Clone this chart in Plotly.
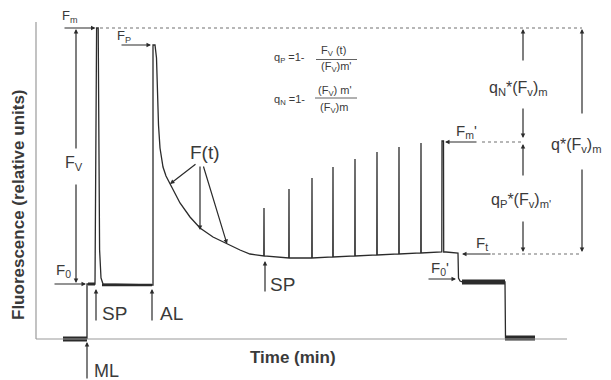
import plotly.graph_objects as go

# ---------------- data (time in arbitrary units, fluorescence in relative units) -------------
# fluorescence levels
F_BASE = 41      # signal with measuring light off
F0 = 96          # minimal fluorescence (ML on)
FM = 352         # maximal fluorescence (saturation pulse, dark)
FP = 335         # peak on actinic light
FM_P = 239       # Fm' (last pulse)
FT = 127         # steady state Ft
F0_P = 98        # F0' after AL off

# dark baseline before ML
base_t = [63, 87]
base_f = [F_BASE, F_BASE]

# first part: ML on, dark saturating pulse, dark plateau, AL on
start_t = [87, 87, 95, 96, 96.6, 98.2, 98.8, 99.6, 101, 103, 152, 153, 153]
start_f = [F_BASE, F0, F0, FM, FM, FM, 230, 130, 102, 96, 95, 95, FP]

# decay of F(t) under actinic light (Kautsky)
decay_t = [155, 156.5, 157.5, 158.5, 160, 163, 166, 170, 175, 180, 190, 200, 213, 227, 240, 250]
decay_f = [FP, 322, 290, 255, 232, 213, 204, 196, 186, 177, 163, 152, 143, 136, 130, 126]

# saturating pulses under actinic light
sp_t = [264, 289, 312, 333, 355, 377, 399, 421, 442]
sp_base = [124, 122, 122, 123, 124, 125, 126, 127, 128]
sp_peak = [172, 191, 202, 213, 221, 228, 233, 237, FM_P]

# AL off -> F0', then ML off
end_t = [458, 458.5, 460, 463, 505, 505.5, 535]
end_f = [FT, 102, 99, F0_P, F0_P, 42, 42]

# thick (noisy) segments
thick = [
    ([63, 87], [F_BASE, F_BASE], 5),
    ([88, 95], [F0, F0], 3),
    ([102, 152], [95, 95], 2.6),
    ([462, 505], [F0_P, F0_P], 5),
    ([505, 535], [42, 42], 5),
]

# ---------------- build the trace -------------
tt = list(start_t) + decay_t
ff = list(start_f) + decay_f
for i, (t, b, p) in enumerate(zip(sp_t, sp_base, sp_peak)):
    if i < len(sp_t) - 1:
        tt += [t - 0.2, t, t + 0.2]
        ff += [b, p, b]
    else:
        tt += [t - 0.2, t, t + 1.5, t + 1.7, t + 4]
        ff += [b, p, p, b, b]
tt += end_t
ff += end_f

TRACE = "#2b2b2b"
TXT = "#3a3a3a"
AX = "#9a9a9a"
DOT = "#707070"
FONT = "Liberation Sans, Arial, sans-serif"

fig = go.Figure()
fig.add_trace(go.Scatter(x=tt, y=ff, mode="lines", line=dict(color=TRACE, width=1.3),
                         hoverinfo="skip", showlegend=False))
for xs, ys, w in thick:
    fig.add_trace(go.Scatter(x=xs, y=ys, mode="lines", line=dict(color=TRACE, width=w),
                             hoverinfo="skip", showlegend=False))

shapes = []
annos = []


def line(x0, y0, x1, y1, dash=None, color=AX, width=1.2):
    shapes.append(dict(type="line", xref="x", yref="y", x0=x0, y0=y0, x1=x1, y1=y1,
                       line=dict(color=color, width=width, dash=dash) if dash else dict(color=color, width=width)))


def arrow(x0, y0, x1, y1):
    annos.append(dict(x=x1, y=y1, ax=x0, ay=y0, xref="x", yref="y", axref="x", ayref="y",
                      showarrow=True, arrowhead=2, arrowsize=0.75, arrowwidth=1.2,
                      arrowcolor=TRACE, text="", standoff=0, startstandoff=0))


def text(x, y, s, size=16, xanchor="center", bold=False, angle=0):
    annos.append(dict(x=x, y=y, xref="x", yref="y", text=("<b>%s</b>" % s) if bold else s,
                      showarrow=False, xanchor=xanchor, yanchor="middle", textangle=angle,
                      font=dict(family=FONT, size=size, color=TXT)))


# axes frame
line(36, 358, 36, F_BASE)
line(36, F_BASE, 567, F_BASE)

# Fm
text(70, 364, "F<sub>m</sub>", 13)
arrow(63, FM, 95.5, FM)
line(100, FM, 582, FM, dash="dot", color=DOT)
# Fv
arrow(76, 230, 76, FM - 1)
text(74, 217, "F<sub>V</sub>", 16)
arrow(76, 197, 76, F0 + 1)
# F0
text(63, 110, "F<sub>0</sub>", 15)
arrow(53, F0, 86, F0)
# SP / AL / ML
arrow(96, 58, 96, 91)
text(100, 67, "SP", 19, xanchor="left")
arrow(152, 58, 152, 91)
text(158, 67, "AL", 19, xanchor="left")
arrow(87, 0, 87, 38)
text(92, 9, "ML", 18, xanchor="left")
# Fp
text(124, 344, "F<sub>P</sub>", 13)
arrow(120, FP, 151, FP)
# F(t)
text(205, 228, "F(t)", 19)
arrow(197, 217, 170, 196)
arrow(200, 215, 200, 150)
arrow(203, 215, 227, 136)
# SP in light
arrow(265, 87, 265, 119)
text(268, 96, "SP", 19, xanchor="left")

# formulas
text(289, 322, "q<sub>P</sub> =1-", 11)
text(333, 329, "F<sub>V</sub> (t)", 11)
line(316, 320.5, 357, 320.5, color=TXT, width=0.8)
text(336, 313, "(F<sub>V</sub>)m'", 11)
text(289, 280, "q<sub>N</sub> =1-", 11)
text(335, 289, "(F<sub>V</sub>) m'", 11)
line(315, 282, 357, 282, color=TXT, width=0.8)
text(334, 272, "(F<sub>V</sub>)m", 11)

# right-hand annotations
arrow(523, 318, 523, FM - 1)
text(518, 292, "q<sub>N</sub>*(F<sub>v</sub>)<sub>m</sub>", 16)
arrow(523, 273, 523, FM_P + 3)
arrow(523, 203, 523, FM_P - 3)
text(521, 180, "q<sub>P</sub>*(F<sub>v</sub>)<sub>m'</sub>", 16)
arrow(523, 160, 523, FT + 1)

arrow(478, FM_P - 1, 445, FM_P - 1)
line(482, FM_P - 1, 522, FM_P - 1, dash="dot", color=DOT)
text(466, 249, "F<sub>m</sub>'", 15)

arrow(582, 265, 582, FM - 1)
text(576, 235, "q*(F<sub>v</sub>)<sub>m</sub>", 16)
arrow(582, 212, 582, FT + 1)

text(482, 137, "F<sub>t</sub>", 15)
arrow(492, FT - 1, 462, FT - 1)
line(492, FT - 1, 582, FT - 1, dash="dot", color=DOT)

text(440, 112, "F<sub>0</sub>'", 15)
arrow(427, 101, 456, 101)

# axis titles
text(18, 175, "Fluorescence (relative units)", 17, bold=True, angle=-90)
text(293, 23, "Time (min)", 17, bold=True)

fig.update_layout(
    width=611, height=380,
    margin=dict(l=0, r=0, t=0, b=0),
    paper_bgcolor="white", plot_bgcolor="white",
    xaxis=dict(range=[0, 611], visible=False, fixedrange=True),
    yaxis=dict(range=[0, 380], visible=False, fixedrange=True),
    shapes=shapes, annotations=annos, showlegend=False,
)
fig.write_html("out.html", config={"displayModeBar": False},
               post_script="document.body.style.margin='0';document.body.style.overflow='hidden';")
